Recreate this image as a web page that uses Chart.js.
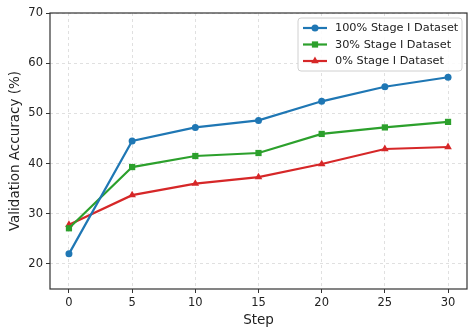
<!DOCTYPE html>
<html>
<head>
<meta charset="utf-8">
<script src="https://cdn.jsdelivr.net/npm/chart.js@4/dist/chart.umd.min.js"></script>
<style>
  html, body { margin: 0; padding: 0; background: #fff; }
  #wrap { width: 476px; height: 336px; }
</style>
</head>
<body>
<div id="wrap"><canvas id="chart" width="476" height="336"></canvas></div>
<script>
const steps = [0, 5, 10, 15, 20, 25, 30];
const full = [22.0, 44.5, 47.2, 48.6, 52.4, 55.3, 57.2];
const thirty = [27.1, 39.3, 41.5, 42.1, 45.9, 47.2, 48.3];
const zero = [27.8, 33.7, 36.0, 37.3, 39.9, 42.9, 43.3];
const seriesNames = ['100% Stage I Dataset', '30% Stage I Dataset', '0% Stage I Dataset'];
const xTicks = [0, 5, 10, 15, 20, 25, 30];
const yTicks = [20, 30, 40, 50, 60, 70];

const FONT = 'DejaVu Sans';
const TEXT = '#222';
const markerSize = { circle: 3.5, rect: 4.4, triangle: 4.4 };

function toPoints(vals) {
    return steps.map((s, i) => ({ x: s, y: vals[i] }));
}

function makeDataset(label, vals, color, style) {
    return {
        label: label,
        data: toPoints(vals),
        borderColor: color,
        backgroundColor: color,
        borderWidth: 2.2,
        pointStyle: style,
        pointRadius: markerSize[style],
        pointBorderWidth: 0,
        tension: 0
    };
}

// frame on all four sides like matplotlib spines
const framePlugin = {
    id: 'frame',
    afterDatasetsDraw(chart) {
        const { ctx, chartArea: a } = chart;
        ctx.save();
        ctx.strokeStyle = '#333';
        ctx.lineWidth = 1.2;
        ctx.strokeRect(a.left, a.top, a.right - a.left, a.bottom - a.top);
        ctx.restore();
    }
};

// legend box in the upper right corner of the plot
const legendPlugin = {
    id: 'innerLegend',
    afterDraw(chart) {
        const { ctx, chartArea: a } = chart;
        const sets = chart.data.datasets;
        const boxW = 164, rowH = 16.5;
        const boxH = 53;
        const x0 = a.right - boxW - 5, y0 = a.top + 5;
        ctx.save();
        ctx.beginPath();
        ctx.roundRect(x0, y0, boxW, boxH, 3);
        ctx.fillStyle = 'rgba(255,255,255,0.85)';
        ctx.fill();
        ctx.strokeStyle = '#d0d0d0';
        ctx.lineWidth = 1;
        ctx.stroke();
        ctx.font = '11.3px "' + FONT + '"';
        ctx.textBaseline = 'middle';
        sets.forEach((ds, i) => {
            const cy = y0 + 10 + i * rowH;
            ctx.strokeStyle = ds.borderColor;
            ctx.lineWidth = 2.2;
            ctx.beginPath();
            ctx.moveTo(x0 + 5, cy);
            ctx.lineTo(x0 + 29, cy);
            ctx.stroke();
            ctx.fillStyle = ds.borderColor;
            Chart.helpers.drawPoint(ctx, {
                pointStyle: ds.pointStyle,
                radius: ds.pointRadius,
                borderWidth: 0,
                rotation: 0
            }, x0 + 17, cy);
            ctx.fillStyle = TEXT;
            ctx.fillText(ds.label, x0 + 37, cy + 0.5);
        });
        ctx.restore();
    }
};

new Chart(document.getElementById('chart'), {
    type: 'line',
    data: {
        datasets: [
            makeDataset(seriesNames[0], full, '#1f77b4', 'circle'),
            makeDataset(seriesNames[1], thirty, '#2ca02c', 'rect'),
            makeDataset(seriesNames[2], zero, '#d62728', 'triangle')
        ]
    },
    options: {
        responsive: false,
        animation: false,
        layout: { padding: { top: 13, right: 9, left: 0, bottom: 0 } },
        plugins: {
            legend: { display: false },
            tooltip: { enabled: false }
        },
        scales: {
            x: {
                type: 'linear',
                min: -1.5,
                max: 31.5,
                afterBuildTicks: s => { s.ticks = xTicks.map(v => ({ value: v })); },
                afterFit: s => { s.height = 47; },
                grid: { color: '#d8d8d8', lineWidth: 0.8, tickLength: 4, tickColor: '#333', tickWidth: 1 },
                border: { display: false, dash: [3, 3] },
                ticks: { color: TEXT, font: { family: FONT, size: 11.5 }, padding: 3, maxRotation: 0 },
                title: { display: true, text: 'Step', color: TEXT, font: { family: FONT, size: 13.5 }, padding: { top: 0, bottom: 7 } }
            },
            y: {
                type: 'linear',
                min: 15,
                max: 70,
                afterBuildTicks: s => { s.ticks = yTicks.map(v => ({ value: v })); },
                afterFit: s => { s.width = 50; },
                grid: { color: '#d8d8d8', lineWidth: 0.8, tickLength: 4, tickColor: '#333', tickWidth: 1 },
                border: { display: false, dash: [3, 3] },
                ticks: { color: TEXT, font: { family: FONT, size: 11.5 }, padding: 3 },
                title: { display: true, text: 'Validation Accuracy (%)', color: TEXT, font: { family: FONT, size: 13.5 }, padding: { top: 7, bottom: 0 } }
            }
        }
    },
    plugins: [framePlugin, legendPlugin]
});
</script>
</body>
</html>
